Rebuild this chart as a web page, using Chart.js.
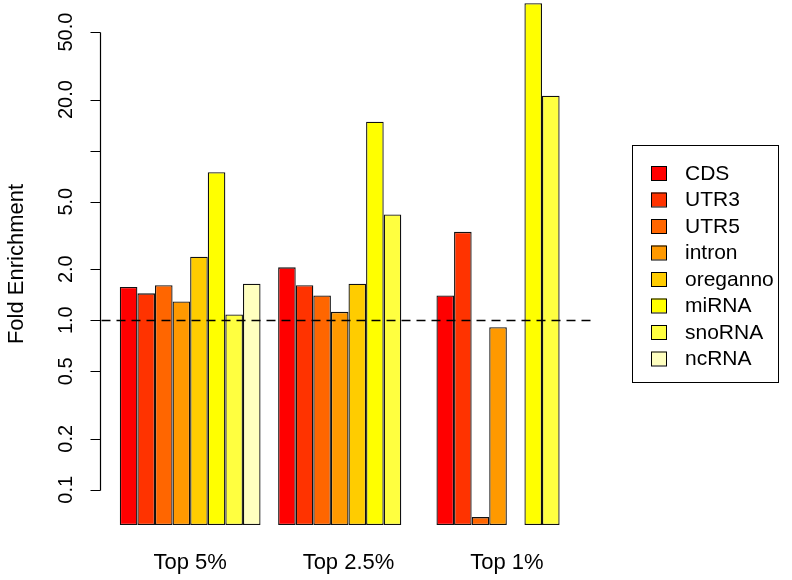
<!DOCTYPE html>
<html lang="en">

<head>
    <meta charset="UTF-8">
    <title>Fold Enrichment</title>
    <script src="https://cdn.jsdelivr.net/npm/chart.js@4.4.1/dist/chart.umd.min.js"></script>
    <style>
        body { margin: 0; background: #fff; }
        #wrap { width: 792px; height: 580px; }
    </style>
</head>

<body>
    <div id="wrap"><canvas id="myChart"></canvas></div>
</body>
<script>
    // groups along the x axis
    const categories = ['Top 5%', 'Top 2.5%', 'Top 1%'];

    // one array per feature, values for Top 5%, Top 2.5%, Top 1%
    const cds = [1.57, 2.05, 1.40];
    const utr3 = [1.44, 1.61, 3.32];
    const utr5 = [1.61, 1.40, 0.069];
    const intron = [1.29, 1.12, 0.91];
    const oreganno = [2.37, 1.64, null];
    const mirna = [7.45, 14.8, 74];
    const snorna = [1.08, 4.2, 21.1];
    const ncrna = [1.64, null, null];

    const seriesNames = ['CDS', 'UTR3', 'UTR5', 'intron', 'oreganno', 'miRNA', 'snoRNA', 'ncRNA'];
    const seriesValues = [cds, utr3, utr5, intron, oreganno, mirna, snorna, ncrna];
    // heat.colors(8)
    const colors = ['#FF0000', '#FF3300', '#FF6600', '#FF9900', '#FFCC00', '#FFFF00', '#FFFF40', '#FFFFBF'];

    const yTicks = [0.1, 0.2, 0.5, 1, 2, 5, 10, 20, 50];
    const yTickLabels = ['0.1', '0.2', '0.5', '1.0', '2.0', '5.0', '', '20.0', '50.0'];
    const yMin = 0.062;
    const yMax = 77.3;

    const FONT = "'Liberation Sans', Arial, sans-serif";

    const datasets = seriesNames.map((name, i) => ({
        label: name,
        data: seriesValues[i],
        backgroundColor: colors[i],
        borderColor: '#111',
        borderWidth: 1.3,
        borderSkipped: false,
        barPercentage: 1,
        categoryPercentage: 8 / 9
    }));

    // R style axis, labels, reference line and legend
    const rStyle = {
        id: 'rStyle',
        afterDatasetsDraw(chart) {
            const ctx = chart.ctx;
            const area = chart.chartArea;
            const y = chart.scales.y;
            const unit = (area.right - area.left) / categories.length / 9;
            const py = Math.round(y.getPixelForValue(1)) + 0.5;
            ctx.save();
            ctx.strokeStyle = '#000';
            ctx.lineWidth = 1.6;
            ctx.setLineDash([9, 6]);
            ctx.beginPath();
            ctx.moveTo(area.left - 0.54 * unit, py);
            ctx.lineTo(area.right + 0.54 * unit, py);
            ctx.stroke();
            ctx.restore();
        },
        afterDraw(chart) {
            const ctx = chart.ctx;
            const area = chart.chartArea;
            const x = chart.scales.x;
            const y = chart.scales.y;
            const unit = (area.right - area.left) / categories.length / 9;
            const axisX = Math.round(area.left - 0.54 * unit) - 1.5;

            ctx.save();
            ctx.strokeStyle = '#000';
            ctx.fillStyle = '#000';
            ctx.lineWidth = 1.2;

            // y axis line + ticks
            const top = Math.round(y.getPixelForValue(yTicks[yTicks.length - 1])) + 0.5;
            const bot = Math.round(y.getPixelForValue(yTicks[0])) + 0.5;
            ctx.beginPath();
            ctx.moveTo(axisX, top);
            ctx.lineTo(axisX, bot);
            yTicks.forEach(t => {
                const p = Math.round(y.getPixelForValue(t)) + 0.5;
                ctx.moveTo(axisX, p);
                ctx.lineTo(axisX - 10, p);
            });
            ctx.stroke();

            // tick labels, rotated like R
            ctx.font = '20px ' + FONT;
            ctx.textAlign = 'center';
            ctx.textBaseline = 'middle';
            yTicks.forEach((t, i) => {
                const p = y.getPixelForValue(t);
                ctx.save();
                ctx.translate(axisX - 34, p);
                ctx.rotate(-Math.PI / 2);
                ctx.fillText(yTickLabels[i], 0, 0);
                ctx.restore();
            });

            // y title
            ctx.font = '22px ' + FONT;
            ctx.save();
            ctx.translate(17, 264);
            ctx.rotate(-Math.PI / 2);
            ctx.fillText('Fold Enrichment', 0, 0);
            ctx.restore();

            // category labels
            categories.forEach((c, i) => {
                ctx.fillText(c, x.getPixelForValue(i), 563);
            });

            // legend
            const lx = 632, ly = 145, lw = 146, lh = 237;
            ctx.lineWidth = 1;
            ctx.strokeRect(lx + 0.5, ly + 0.5, lw, lh);
            ctx.font = '21px ' + FONT;
            ctx.textAlign = 'left';
            seriesNames.forEach((name, i) => {
                const cy = 173 + i * 26.5;
                ctx.fillStyle = colors[i];
                ctx.fillRect(651, cy - 7, 15, 14);
                ctx.strokeRect(651.5, cy - 6.5, 15, 14);
                ctx.fillStyle = '#000';
                ctx.fillText(name, 685, cy + 1);
            });
            ctx.restore();
        }
    };

    var ctx = document.getElementById('myChart').getContext('2d');
    var chart = new Chart(ctx, {
        type: 'bar',
        data: {
            labels: categories,
            datasets: datasets
        },
        options: {
            responsive: true,
            maintainAspectRatio: false,
            animation: false,
            layout: { padding: { left: 111, right: 206, top: 0, bottom: 55 } },
            plugins: {
                legend: { display: false },
                tooltip: { enabled: false }
            },
            scales: {
                x: { display: false },
                y: { type: 'logarithmic', min: yMin, max: yMax, display: false }
            }
        },
        plugins: [rStyle]
    });
</script>

</html>
